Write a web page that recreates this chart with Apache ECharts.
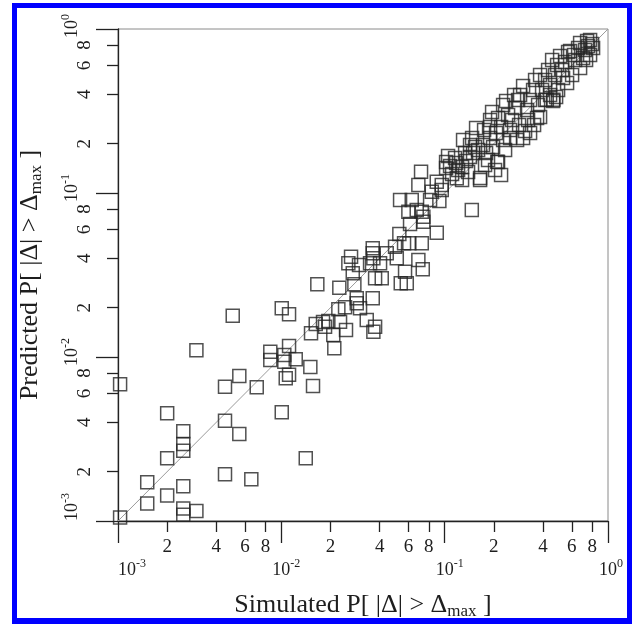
<!DOCTYPE html>
<html>
<head>
<meta charset="utf-8">
<script src="https://cdn.jsdelivr.net/npm/echarts@6/dist/echarts.min.js"></script>
<style>
html,body{margin:0;padding:0;background:#fff;}
#chart{position:absolute;left:0;top:0;width:632px;height:624px;}
#frame{position:absolute;left:12px;top:3px;width:610px;height:610px;border:5px solid #0000ff;border-bottom-width:6px;pointer-events:none;}
</style>
</head>
<body>
<div id="chart"></div>
<div id="frame"></div>
<script>
// ---- data ----
const simulatedP = [
  0.00103, 0.00103, 0.00151, 0.00151, 0.0020, 0.0020, 0.0020, 0.00251, 0.00251, 0.00251,
  0.00251, 0.00251, 0.00251, 0.00302, 0.00302, 0.00452, 0.00452, 0.00452, 0.00504, 0.00553,
  0.00553, 0.00655, 0.00707, 0.00856, 0.00856, 0.01006, 0.01006, 0.01043, 0.01043, 0.01064,
  0.01115, 0.01115, 0.01115, 0.01225, 0.01411, 0.01505, 0.0152, 0.01563, 0.01661, 0.01624,
  0.018, 0.01852, 0.0194, 0.0208, 0.0211, 0.02234, 0.02265, 0.02288, 0.02455, 0.02489,
  0.02572, 0.02672, 0.02737, 0.028, 0.02895, 0.02895, 0.0299, 0.03033, 0.03334, 0.03493,
  0.03628, 0.03628, 0.0366, 0.03628, 0.0366, 0.0375, 0.0375, 0.04022, 0.04119, 0.04419,
  0.04969, 0.05091, 0.05279, 0.05385, 0.05861, 0.05641, 0.06077, 0.05721, 0.06138, 0.06902,
  0.07343, 0.07241, 0.07407, 0.08946, 0.05333, 0.06287, 0.05995, 0.06745, 0.07241, 0.07407,
  0.07169, 0.06902, 0.08141, 0.08339, 0.08946, 0.09598, 0.09598, 0.09279, 0.1466, 0.1186,
  0.1648, 0.2215, 0.2102, 0.4219, 0.463,
  0.102, 0.102, 0.1079, 0.111, 0.1175, 0.1208, 0.1049, 0.1158, 0.1278, 0.1352,
  0.1296, 0.1334, 0.143, 0.1492, 0.143, 0.1557, 0.1602, 0.1535, 0.1472, 0.1391,
  0.1278, 0.1647, 0.1719, 0.1792, 0.1897, 0.1897, 0.1897, 0.1979, 0.2064, 0.1843,
  0.2123, 0.2035, 0.1743, 0.1951, 0.2123, 0.1767, 0.2279, 0.2215, 0.2279, 0.2377,
  0.2515, 0.2515, 0.2445, 0.2587, 0.2698, 0.2776, 0.2661, 0.2344, 0.2855, 0.2815,
  0.2895, 0.3021, 0.3021, 0.3108, 0.3196, 0.3334, 0.3334, 0.3478, 0.3577, 0.368,
  0.3732, 0.3838, 0.3838, 0.3241, 0.3527, 0.3948, 0.412, 0.4298, 0.4421, 0.4548,
  0.4612, 0.4743, 0.4948, 0.4811, 0.509, 0.4879, 0.412, 0.4421, 0.5236, 0.5462,
  0.5617, 0.5697, 0.5861, 0.6028, 0.6289, 0.6561, 0.6748, 0.6748, 0.6201, 0.5309,
  0.7037, 0.7238, 0.7447, 0.7552, 0.7769, 0.7769, 0.799, 0.8103, 0.7341
];
const predictedP = [
  0.00105, 0.00682, 0.00128, 0.00172, 0.00143, 0.00241, 0.00454, 0.00109, 0.00119, 0.00163,
  0.00268, 0.00295, 0.00352, 0.00115, 0.0110, 0.00193, 0.00409, 0.00659, 0.01786, 0.00339,
  0.00766, 0.0018, 0.00654, 0.01077, 0.00959, 0.0198, 0.0046, 0.01029, 0.00936, 0.00742,
  0.0078, 0.01167, 0.0182, 0.00968, 0.00241, 0.00869, 0.01395, 0.00666, 0.02776, 0.01589,
  0.01635, 0.0153, 0.01657, 0.01362, 0.0113, 0.01954, 0.02647, 0.01642, 0.0201, 0.0146,
  0.03727, 0.0409, 0.0324, 0.02776, 0.0228, 0.02126, 0.0364, 0.0198, 0.01681, 0.03727,
  0.046, 0.04289, 0.04, 0.0228, 0.01427, 0.0153, 0.0302, 0.03727, 0.0302, 0.04289,
  0.04707, 0.04, 0.05623, 0.02815, 0.02815, 0.04935, 0.04935, 0.03313, 0.06471, 0.03904,
  0.03426, 0.04935, 0.06683, 0.05728, 0.09064, 0.09064, 0.07691, 0.07875, 0.07691, 0.07169,
  0.1349, 0.1119, 0.09064, 0.1018, 0.1172, 0.1119, 0.1043, 0.08939, 0.07875, 0.1229,
  0.12, 0.1288, 0.1552, 0.3707, 0.3707,
  0.1545, 0.142, 0.1461, 0.1306, 0.1524, 0.1381, 0.1681, 0.1635, 0.144, 0.1567,
  0.2105, 0.1754, 0.1658, 0.1754, 0.1962, 0.2491, 0.1829, 0.1908, 0.2165, 0.1343,
  0.12, 0.1234, 0.1962, 0.1754, 0.2165, 0.2526, 0.2788, 0.1908, 0.2322, 0.1589,
  0.1545, 0.1381, 0.2422, 0.3118, 0.2867, 0.1482, 0.2105, 0.2526, 0.344, 0.3639,
  0.2422, 0.2165, 0.2989, 0.2788, 0.3298, 0.2105, 0.3959, 0.1829, 0.2598, 0.3692,
  0.3959, 0.4493, 0.2165, 0.2388, 0.3207, 0.3692, 0.2322, 0.4246, 0.4887, 0.2867,
  0.344, 0.5243, 0.2907, 0.2788, 0.2598, 0.4246, 0.4887, 0.5623, 0.4556, 0.6471,
  0.3639, 0.5243, 0.4246, 0.385, 0.6845, 0.6032, 0.3692, 0.3959, 0.5623, 0.6292,
  0.4686, 0.7239, 0.7341, 0.5243, 0.6471, 0.7659, 0.8215, 0.5784, 0.6941, 0.5027,
  0.6656, 0.7447, 0.845, 0.7877, 0.8568, 0.6941, 0.81, 0.7659, 0.6471
];
const axisRange = [0.001, 1];           // both axes: 10^-3 .. 10^0
const identityLine = [0.001, 1];        // y = x reference line end points
const decadeExponents = [-3, -2, -1, 0];
const minorMultipliers = [2, 4, 6, 8];
const xTitle = 'Simulated P[ |\u0394| > \u0394';
const yTitle = 'Predicted P[ |\u0394| > \u0394';
const titleSub = 'max';

// ---- helpers ----
const serif = 'Liberation Serif, Times New Roman, DejaVu Serif, serif';
const ink = '#1e1e1e';
const points = simulatedP.map((v, i) => [v, predictedP[i]]);
const minorTickPos = [];
decadeExponents.slice(0, -1).forEach(d => minorMultipliers.forEach(m => minorTickPos.push(d + Math.log10(m))));
const minorFmt = v => String(Math.round(Math.pow(10, v - Math.floor(v + 1e-9))));
const majorFmt = v => {
  const e = String(Math.round(v));
  if (Math.round(v) === -3) return '{hb|10}{hs|' + e + '}{b|10}{s|' + e + '}';
  return '{hs|' + e + '}{b|10}{s|' + e + '}';
};
const majorRich = {
  b: {fontFamily: serif, fontSize: 18, lineHeight: 21, verticalAlign: 'bottom', color: ink},
  s: {fontFamily: serif, fontSize: 12, lineHeight: 12, verticalAlign: 'top', color: ink},
  hb: {fontFamily: serif, fontSize: 18, lineHeight: 21, verticalAlign: 'bottom', color: 'rgba(0,0,0,0)'},
  hs: {fontFamily: serif, fontSize: 12, lineHeight: 12, verticalAlign: 'top', color: 'rgba(0,0,0,0)'}
};
const titleRich = {
  t: {fontFamily: serif, fontSize: 26, lineHeight: 28, verticalAlign: 'top', color: ink},
  sub: {fontFamily: serif, fontSize: 17, lineHeight: 11, verticalAlign: 'bottom', color: ink}
};
const lineStyle = {color: '#222', width: 1.3};

function decoAxis(kind, minor) {
  return {
    type: 'value', min: decadeExponents[0], max: decadeExponents[decadeExponents.length - 1],
    position: kind === 'x' ? 'bottom' : 'left',
    axisLine: {show: false, onZero: false},
    splitLine: {show: false},
    axisTick: {show: true, inside: false, length: minor ? 11 : 22, lineStyle: lineStyle,
               customValues: minor ? minorTickPos : decadeExponents},
    axisLabel: minor ? {
      show: true, customValues: minorTickPos, formatter: minorFmt,
      fontFamily: serif, fontSize: 19, color: ink,
      margin: kind === 'x' ? 17 : 23, rotate: kind === 'x' ? 0 : 90
    } : {
      show: true, customValues: decadeExponents, formatter: majorFmt,
      rich: majorRich, margin: 37, rotate: kind === 'x' ? 0 : 90
    }
  };
}

const chart = echarts.init(document.getElementById('chart'), null, {renderer: 'canvas'});
chart.setOption({
  animation: false,
  backgroundColor: 'transparent',
  grid: {left: 118, right: 24, top: 29, bottom: 103, show: true, borderColor: '#8a8a8a', borderWidth: 1,
         backgroundColor: 'transparent', containLabel: false, outerBoundsMode: 'none'},
  xAxis: [
    {type: 'log', logBase: 10, min: axisRange[0], max: axisRange[1], position: 'bottom',
     axisLine: {show: true, onZero: false, lineStyle: lineStyle}, axisTick: {show: false},
     axisLabel: {show: false}, splitLine: {show: false},
     name: '{t|' + xTitle + '}{sub|' + titleSub + '}{t| ]}', nameLocation: 'middle', nameGap: 71,
     nameTextStyle: {rich: titleRich}},
    decoAxis('x', true),
    decoAxis('x', false)
  ],
  yAxis: [
    {type: 'log', logBase: 10, min: axisRange[0], max: axisRange[1], position: 'left',
     axisLine: {show: true, onZero: false, lineStyle: lineStyle}, axisTick: {show: false},
     axisLabel: {show: false}, splitLine: {show: false},
     name: '{t|' + yTitle + '}{sub|' + titleSub + '}{t| ]}', nameLocation: 'middle', nameGap: 73,
     nameRotate: 90, nameTextStyle: {rich: titleRich}},
    decoAxis('y', true),
    decoAxis('y', false)
  ],
  series: [
    {type: 'line', xAxisIndex: 0, yAxisIndex: 0, silent: true, symbol: 'none',
     data: [[identityLine[0], identityLine[0]], [identityLine[1], identityLine[1]]],
     lineStyle: {color: '#9a9a9a', width: 1}, z: 1},
    {type: 'scatter', xAxisIndex: 0, yAxisIndex: 0, symbol: 'rect', symbolSize: 13,
     data: points, z: 2,
     itemStyle: {color: 'rgba(0,0,0,0)', borderColor: '#262626', borderWidth: 1.5}}
  ]
});
</script>
</body>
</html>
